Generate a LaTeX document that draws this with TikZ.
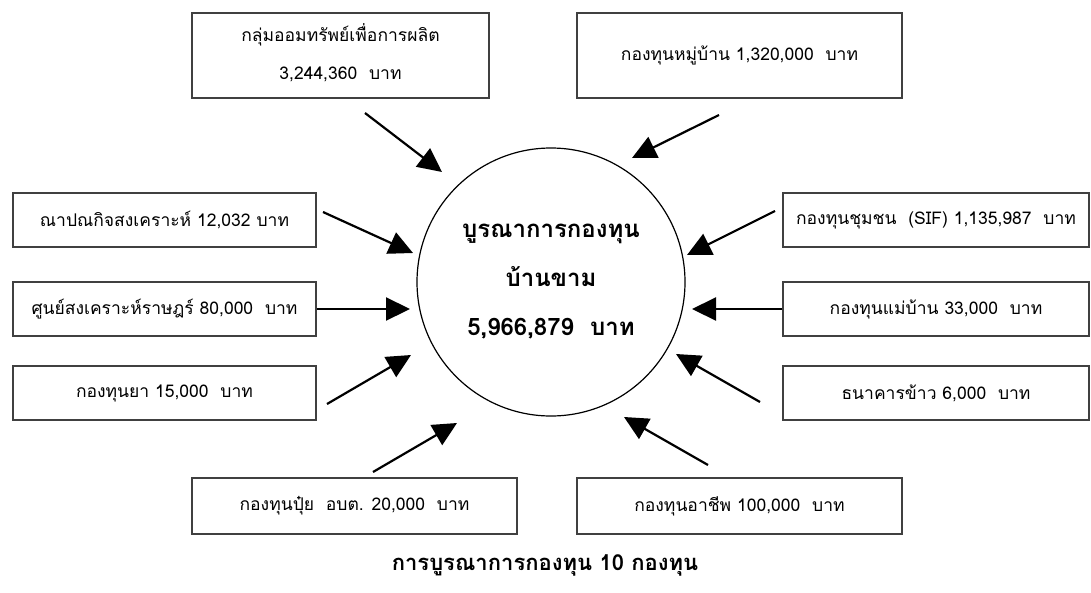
\documentclass[tikz,border=0pt]{standalone}
\usepackage{fontspec}
\newfontfamily\thaifont[Script=Thai]{Loma}
\usetikzlibrary{arrows.meta}

\tikzset{
  fundbox/.style={draw=black!75,line width=1.2pt,minimum width=303pt,minimum height=54pt,
    inner sep=0pt,align=center,font=\thaifont\fontsize{17.5}{38}\selectfont},
  feed/.style={line width=2.2pt,-{Triangle[length=24pt,width=23pt]}}
}

\begin{document}
\begin{tikzpicture}[x=1pt,y=-1pt]
    \useasboundingbox (0,0) rectangle (1091,592);

    % centre
    \node[draw,circle,line width=1.2pt,minimum size=268pt,align=center,
          font=\thaifont\bfseries\fontsize{24}{49}\selectfont] (hub) at (551,282)
          {บูรณาการกองทุน\\บ้านขาม\\5,966,879~ บาท};

    % funds
    \node[fundbox,minimum width=297pt,minimum height=85pt,text depth=8pt] (savings) at (340.5,55.5)
          {กลุ่มออมทรัพย์เพื่อการผลิต\\3,244,360~ บาท};
    \node[fundbox,minimum width=325pt,minimum height=85pt] (village) at (739.5,55.5)
          {กองทุนหมู่บ้าน 1,320,000~ บาท};
    \node[fundbox] (funeral) at (164.5,220) {ณาปณกิจสงเคราะห์ 12,032 บาท};
    \node[fundbox] (welfare) at (164.5,309) {ศูนย์สงเคราะห์ราษฎร์ 80,000~ บาท};
    \node[fundbox] (medicine) at (164.5,393) {กองทุนยา 15,000~ บาท};
    \node[fundbox,minimum width=306pt] (sif) at (936,220) {กองทุนชุมชน~ (SIF) 1,135,987~ บาท};
    \node[fundbox,minimum width=306pt] (housewife) at (936,309) {กองทุนแม่บ้าน 33,000~ บาท};
    \node[fundbox,minimum width=306pt] (ricebank) at (936,393) {ธนาคารข้าว 6,000~ บาท};
    \node[fundbox,minimum width=325pt,minimum height=56pt] (fertilizer) at (354.5,506)
          {กองทุนปุ๋ย~ อบต. 20,000~ บาท};
    \node[fundbox,minimum width=325pt,minimum height=56pt] (career) at (739.5,506)
          {กองทุนอาชีพ 100,000~ บาท};

    \node[font=\thaifont\bfseries\fontsize{22}{26}\selectfont] (title) at (545,565)
          {การบูรณาการกองทุน 10 กองทุน};

    % arrow ends
    \coordinate (savings-out) at (365,113);    \coordinate (savings-in) at (442,172);
    \coordinate (funeral-out) at (323,212);    \coordinate (funeral-in) at (413,253);
    \coordinate (village-out) at (719,115);    \coordinate (village-in) at (632,158);
    \coordinate (sif-out) at (775,211);        \coordinate (sif-in) at (687,255);
    \coordinate (welfare-in) at (410,309);
    \coordinate (medicine-out) at (327,404);   \coordinate (medicine-in) at (411,355);
    \coordinate (fertilizer-out) at (373,472); \coordinate (fertilizer-in) at (457,423);
    \coordinate (housewife-in) at (692,309);
    \coordinate (ricebank-out) at (760,402);   \coordinate (ricebank-in) at (676,354);
    \coordinate (career-out) at (708,465);     \coordinate (career-in) at (624,417);

    \draw[feed] (savings-out) -- (savings-in);
    \draw[feed] (funeral-out) -- (funeral-in);
    \draw[feed] (village-out) -- (village-in);
    \draw[feed] (sif-out) -- (sif-in);
    \draw[feed] (welfare.east) -- (welfare-in);
    \draw[feed] (medicine-out) -- (medicine-in);
    \draw[feed] (fertilizer-out) -- (fertilizer-in);
    \draw[feed] (housewife.west) -- (housewife-in);
    \draw[feed] (ricebank-out) -- (ricebank-in);
    \draw[feed] (career-out) -- (career-in);
  \end{tikzpicture}
\end{document}
